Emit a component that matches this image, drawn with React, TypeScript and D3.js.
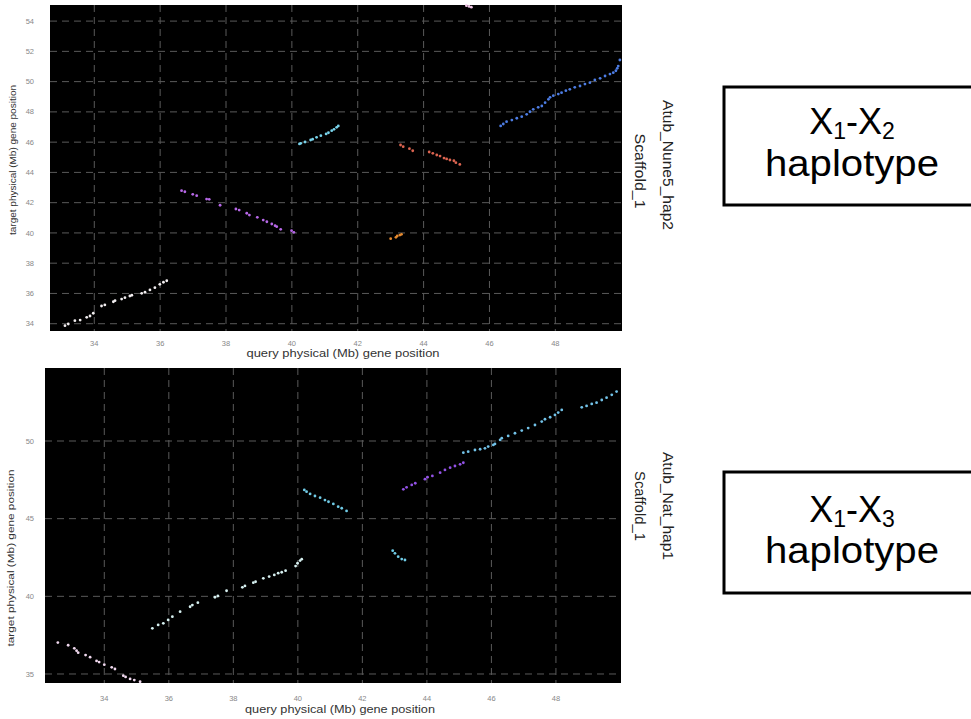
import React from "react";
import * as d3 from "d3";

// ---------- Data ----------
const xTicks = [34, 36, 38, 40, 42, 44, 46, 48];
const topYTicks = [34, 36, 38, 40, 42, 44, 46, 48, 50, 52, 54];
const bottomYTicks = [35, 40, 45, 50];

// Top panel (X1-X2): query vs target positions, Mb
const topSegWhite: [number, number][] = [
  [33.11, 33.87], [33.21, 33.98], [33.41, 34.2], [33.57, 34.24], [33.77, 34.42], [33.87, 34.51],
  [33.97, 34.69], [34.22, 35.17], [34.32, 35.24], [34.58, 35.45], [34.63, 35.52], [34.83, 35.63],
  [34.93, 35.72], [35.08, 35.83], [35.14, 35.88], [35.44, 36.01], [35.54, 36.08], [35.69, 36.23],
  [35.84, 36.38], [35.99, 36.6], [36.1, 36.74], [36.2, 36.84],
];
const topSegPurple: [number, number][] = [
  [36.65, 42.79], [36.75, 42.72], [36.99, 42.55], [37.11, 42.46], [37.41, 42.24], [37.49, 42.22],
  [37.82, 41.83], [38.3, 41.58], [38.4, 41.51], [38.63, 41.3], [38.71, 41.18], [38.95, 41.03],
  [39.13, 40.85], [39.24, 40.74], [39.39, 40.59], [39.49, 40.48], [39.54, 40.41], [39.66, 40.24],
  [39.99, 40.15], [40.06, 40.04],
];
const topSegCyan: [number, number][] = [
  [40.23, 45.88], [40.27, 45.92], [40.4, 46.01], [40.57, 46.14], [40.63, 46.19], [40.75, 46.32],
  [40.88, 46.43], [41.04, 46.54], [41.11, 46.62], [41.21, 46.76], [41.28, 46.85], [41.36, 46.98],
  [41.41, 47.07],
];
const topSegRed: [number, number][] = [
  [43.3, 45.81], [43.38, 45.7], [43.57, 45.57], [43.67, 45.43], [44.17, 45.35], [44.28, 45.26],
  [44.4, 45.15], [44.5, 45.08], [44.62, 44.95], [44.7, 44.89], [44.8, 44.82], [44.92, 44.77],
  [44.98, 44.64], [45.1, 44.53],
];
const topSegOrange: [number, number][] = [
  [43.0, 39.62], [43.16, 39.71], [43.2, 39.8], [43.28, 39.86], [43.33, 39.91],
];
const topSegBlue: [number, number][] = [
  [46.34, 47.07], [46.42, 47.2], [46.52, 47.35], [46.68, 47.46], [46.83, 47.58], [46.98, 47.68],
  [47.13, 47.84], [47.23, 48.01], [47.33, 48.17], [47.48, 48.3], [47.59, 48.39], [47.69, 48.61],
  [47.79, 48.83], [47.84, 48.96], [47.94, 49.07], [48.09, 49.18], [48.19, 49.27], [48.32, 49.4],
  [48.44, 49.49], [48.59, 49.62], [48.75, 49.71], [48.9, 49.84], [49.05, 49.93], [49.2, 50.11],
  [49.36, 50.22], [49.51, 50.37], [49.66, 50.5], [49.76, 50.59], [49.84, 50.72], [49.88, 50.88],
  [49.91, 51.03], [49.96, 51.43],
];
const topSegPink: [number, number][] = [[45.3, 55.02], [45.38, 54.97], [45.45, 54.92]];

// Bottom panel (X1-X3)
const botSegPink: [number, number][] = [
  [32.56, 37.02], [32.88, 36.85], [33.07, 36.65], [33.14, 36.5], [33.19, 36.37], [33.42, 36.22],
  [33.56, 36.08], [33.76, 35.84], [33.84, 35.77], [34.0, 35.6], [34.23, 35.43], [34.33, 35.32],
  [34.59, 34.89], [34.66, 34.81], [34.8, 34.68], [34.93, 34.61], [35.11, 34.5],
];
const botSegWhite: [number, number][] = [
  [35.49, 37.94], [35.67, 38.16], [35.83, 38.26], [35.98, 38.48], [36.11, 38.69], [36.35, 39.01],
  [36.66, 39.33], [36.73, 39.44], [36.9, 39.59], [37.43, 39.94], [37.52, 40.02], [37.79, 40.36],
  [38.28, 40.58], [38.36, 40.67], [38.62, 40.88], [38.69, 40.94], [38.93, 41.16], [39.11, 41.27],
  [39.27, 41.38], [39.39, 41.49], [39.5, 41.55], [39.62, 41.65], [39.93, 41.95], [39.99, 42.13],
  [40.07, 42.3], [40.12, 42.39],
];
const botSegCyan: [number, number][] = [
  [40.2, 46.85], [40.27, 46.74], [40.38, 46.59], [40.53, 46.46], [40.69, 46.35], [40.84, 46.2],
  [40.95, 46.09], [41.1, 45.95], [41.25, 45.77], [41.36, 45.67], [41.51, 45.5],
];
const botSegCyanSmall: [number, number][] = [
  [42.94, 42.94], [43.01, 42.77], [43.11, 42.55], [43.22, 42.4], [43.32, 42.34],
];
const botSegPurple: [number, number][] = [
  [43.27, 46.89], [43.37, 47.02], [43.53, 47.17], [43.64, 47.28], [43.94, 47.54], [44.02, 47.67],
  [44.17, 47.75], [44.41, 47.96], [44.56, 48.14], [44.72, 48.28], [44.87, 48.39], [45.03, 48.5],
  [45.13, 48.6],
];
const botSegBlue: [number, number][] = [
  [45.13, 49.25], [45.28, 49.31], [45.49, 49.42], [45.65, 49.47], [45.8, 49.53], [45.9, 49.64],
  [46.06, 49.75], [46.11, 49.81], [46.27, 50.07], [46.32, 50.18], [46.52, 50.33], [46.73, 50.5],
  [46.94, 50.67], [47.14, 50.83], [47.35, 51.03], [47.56, 51.25], [47.66, 51.4], [47.82, 51.53],
  [47.97, 51.68], [48.07, 51.83], [48.18, 52.0], [48.8, 52.17], [48.95, 52.26], [49.11, 52.39],
  [49.26, 52.47], [49.42, 52.64], [49.57, 52.79], [49.73, 52.97], [49.88, 53.18],
];

// ---------- Styles ----------
const topSeries = [
  { pts: topSegWhite, color: "#f2eef0" },
  { pts: topSegPurple, color: "#b768e8" },
  { pts: topSegCyan, color: "#78d2ea" },
  { pts: topSegRed, color: "#dc6450" },
  { pts: topSegOrange, color: "#e4892f" },
  { pts: topSegBlue, color: "#4d7de4" },
  { pts: topSegPink, color: "#f2c8e8" },
];
const bottomSeries = [
  { pts: botSegPink, color: "#f0d8ee" },
  { pts: botSegWhite, color: "#d6f0f0" },
  { pts: botSegCyan, color: "#70cbe6" },
  { pts: botSegCyanSmall, color: "#70cbe6" },
  { pts: botSegPurple, color: "#9352e6" },
  { pts: botSegBlue, color: "#72c2e8" },
];

const FONT = "'Liberation Sans', Arial, Helvetica, sans-serif";

type PanelProps = {
  x0: number; x1: number; y0: number; y1: number;
  xDomain: [number, number]; yDomain: [number, number];
  yTicks: number[];
  series: { pts: [number, number][]; color: string }[];
  xTickY: number; xTitleY: number; xTitleX: number; xTitleLen: number;
  yTitleX: number; yTitleY: number; yTitleLen: number;
  strip1: string; strip1Len: number; strip1Y: number;
  strip2: string; strip2Len: number; strip2Y: number;
};

function Panel(p: PanelProps) {
  const xs = d3.scaleLinear().domain(p.xDomain).range([p.x0, p.x1]);
  const ys = d3.scaleLinear().domain(p.yDomain).range([p.y1, p.y0]);
  return (
    <g>
      <rect x={p.x0} y={p.y0} width={p.x1 - p.x0} height={p.y1 - p.y0} fill="#000" />
      {xTicks.map((t) => (
        <line key={"gx" + t} x1={xs(t)} x2={xs(t)} y1={p.y0} y2={p.y1}
          stroke="#5a5a5a" strokeWidth={1} strokeDasharray="7,5" />
      ))}
      {p.yTicks.map((t) => (
        <line key={"gy" + t} x1={p.x0} x2={p.x1} y1={ys(t)} y2={ys(t)}
          stroke="#5a5a5a" strokeWidth={1} strokeDasharray="7,5" />
      ))}
      {p.series.map((s, i) => (
        <g key={"s" + i}>
          {s.pts.map((d, j) => (
            <circle key={j} cx={xs(d[0])} cy={ys(d[1])} r={1.4} fill={s.color} />
          ))}
        </g>
      ))}
      {xTicks.map((t) => (
        <text key={"tx" + t} x={xs(t)} y={p.xTickY} fontSize={7.5} fill="#888"
          textAnchor="middle" fontFamily={FONT}>{t}</text>
      ))}
      {p.yTicks.map((t) => (
        <text key={"ty" + t} x={34} y={ys(t) + 2.6} fontSize={7.5} fill="#888"
          textAnchor="end" fontFamily={FONT}>{t}</text>
      ))}
      <text x={p.xTitleX} y={p.xTitleY} fontSize={10} fill="#333" textAnchor="middle"
        fontFamily={FONT} textLength={p.xTitleLen} lengthAdjust="spacingAndGlyphs">
        query physical (Mb) gene position
      </text>
      <text transform={`translate(${p.yTitleX},${p.yTitleY}) rotate(-90)`} fontSize={9.5}
        fill="#333" textAnchor="middle" fontFamily={FONT}
        textLength={p.yTitleLen} lengthAdjust="spacingAndGlyphs">
        target physical (Mb) gene position
      </text>
      <text transform={`translate(663,${p.strip1Y}) rotate(90)`} fontSize={15.5} fill="#222"
        textAnchor="middle" fontFamily={FONT} textLength={p.strip1Len} lengthAdjust="spacingAndGlyphs">
        {p.strip1}
      </text>
      <text transform={`translate(635,${p.strip2Y}) rotate(90)`} fontSize={15.5} fill="#222"
        textAnchor="middle" fontFamily={FONT} textLength={p.strip2Len} lengthAdjust="spacingAndGlyphs">
        {p.strip2}
      </text>
    </g>
  );
}

function LabelBox({ y, h, sub, b1, b2 }: { y: number; h: number; sub: string; b1: number; b2: number }) {
  return (
    <g fontFamily={FONT} fill="#000">
      <rect x={724} y={y} width={260} height={h} fill="#fff" stroke="#000" strokeWidth={3} />
      <text x={852} y={b1} fontSize={36} textAnchor="middle">
        X<tspan fontSize={23} dy={5}>1</tspan>
        <tspan fontSize={36} dy={-5}>-X</tspan>
        <tspan fontSize={23} dy={5}>{sub}</tspan>
      </text>
      <text x={852} y={b2} fontSize={36} textAnchor="middle" textLength={174} lengthAdjust="spacingAndGlyphs">
        haplotype
      </text>
    </g>
  );
}

export default function App() {
  return (
    <svg width={971} height={719} style={{ position: "absolute", left: 0, top: 0, background: "#fff" }}>
      <rect x={0} y={0} width={971} height={719} fill="#fff" />
      <Panel
        x0={50} x1={622} y0={5} y1={331}
        xDomain={[32.655, 50.025]} yDomain={[33.518, 55.064]}
        yTicks={topYTicks} series={topSeries}
        xTickY={346} xTitleY={357} xTitleX={343} xTitleLen={193}
        yTitleX={16} yTitleY={160} yTitleLen={150}
        strip1="Atub_Nune5_hap2" strip1Len={130} strip1Y={165}
        strip2="Scaffold_1" strip2Len={75} strip2Y={171}
      />
      <Panel
        x0={45} x1={621} y0={368} y1={683}
        xDomain={[32.162, 50.017]} yDomain={[34.42, 54.7]}
        yTicks={bottomYTicks} series={bottomSeries}
        xTickY={701} xTitleY={713} xTitleX={340} xTitleLen={190}
        yTitleX={14} yTitleY={558} yTitleLen={177}
        strip1="Atub_Nat_hap1" strip1Len={108} strip1Y={506}
        strip2="Scaffold_1" strip2Len={70} strip2Y={506}
      />
      <LabelBox y={87} h={118} sub="2" b1={134} b2={176} />
      <LabelBox y={472} h={121} sub="3" b1={522} b2={563} />
    </svg>
  );
}
